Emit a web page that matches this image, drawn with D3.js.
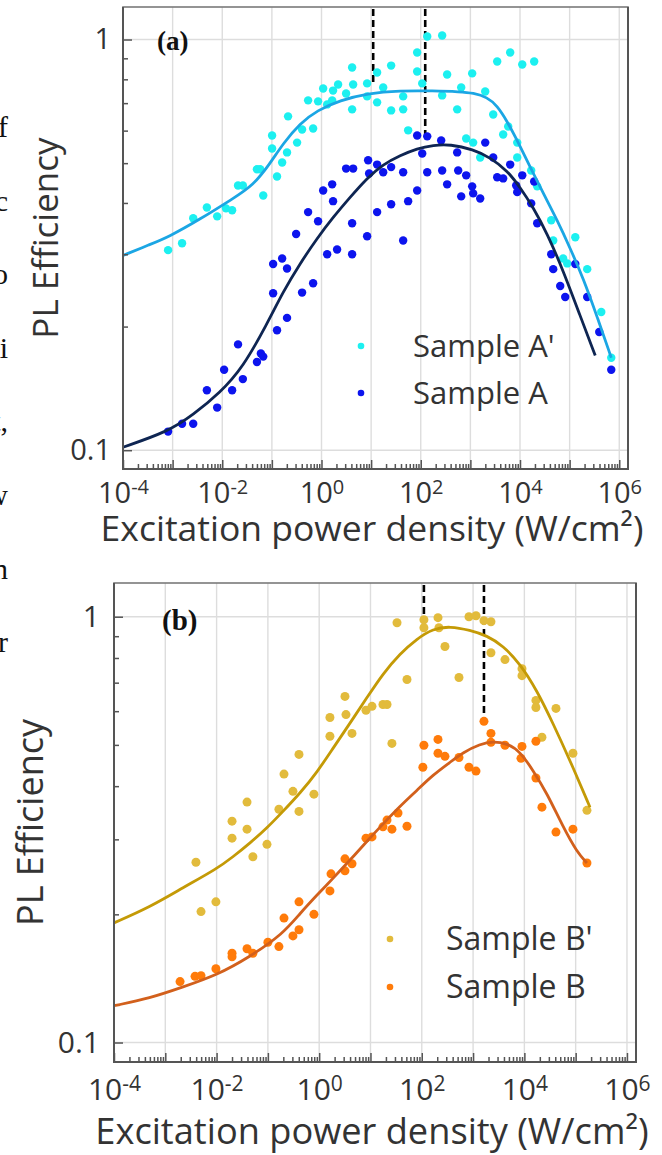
<!DOCTYPE html>
<html>
<head>
<meta charset="utf-8">
<script src="https://cdn.jsdelivr.net/npm/d3@7"></script>
<style>
  body { margin: 0; background: #fff; }
  svg { display: block; font-family: "Open Sans", "Noto Sans", sans-serif; }
</style>
</head>
<body>
<svg id="chart" width="662" height="1155"></svg>
<script>
// ---- data: [power density (W/cm2), PL efficiency] ----
const sampleA1 = [[8.1e-4,0.307],[1.55e-3,0.319],[2.6e-3,0.367],[4.9e-3,0.390],[7.9e-3,0.371],[1.19e-2,0.388],[1.58e-2,0.384],[2.08e-2,0.441],[2.6e-2,0.441],[5.0e-2,0.483],[5.8e-2,0.483],[6.7e-2,0.417],[0.101,0.584],[0.101,0.543],[0.127,0.464],[0.161,0.502],[0.202,0.531],[0.212,0.650],[0.322,0.561],[0.406,0.604],[0.537,0.711],[0.678,0.607],[0.853,0.707],[1.08,0.760],[1.30,0.695],[1.64,0.711],[1.71,0.751],[2.16,0.777],[3.13,0.739],[4.14,0.855],[4.34,0.777],[4.14,0.676],[8.3,0.782],[8.3,0.727],[13.2,0.831],[13.2,0.703],[17.5,0.764],[25.3,0.864],[25.3,0.672],[44.2,0.727],[44.2,0.676],[55.7,0.601],[84.6,0.930],[84.6,0.836],[107,0.782],[135,1.017],[270,1.023],[340,0.822],[270,0.731],[653,0.764],[542,0.676],[1087,0.827],[1990,0.747],[823,0.574],[1138,0.561],[1577,0.516],[2884,0.657],[3470,0.884],[6340,0.930],[1.11e4,0.869],[1.93e4,0.884],[4580,0.587],[5780,0.614],[8790,0.561],[8790,0.516],[1.68e4,0.480],[2.22e4,0.439],[4.26e4,0.363],[4.67e4,0.324],[1.30e5,0.330],[7.4e4,0.293],[8.95e4,0.285],[2.26e5,0.276],[4.34e5,0.217],[6.9e5,0.168]]
const sampleA = [[8.1e-4,0.111],[1.55e-3,0.116],[2.6e-3,0.116],[4.9e-3,0.140],[7.9e-3,0.127],[1.09e-2,0.157],[1.58e-2,0.140],[2.08e-2,0.181],[2.6e-2,0.149],[5.0e-2,0.164],[6.0e-2,0.172],[6.7e-2,0.169],[0.106,0.241],[0.127,0.196],[0.202,0.210],[0.406,0.242],[0.678,0.255],[0.106,0.284],[0.161,0.293],[0.202,0.277],[0.308,0.336],[0.537,0.380],[0.853,0.361],[1.08,0.429],[1.30,0.300],[1.64,0.444],[1.71,0.404],[2.06,0.308],[3.13,0.485],[4.34,0.485],[4.14,0.357],[4.14,0.300],[8.3,0.332],[8.7,0.508],[9.1,0.472],[13.2,0.496],[13.2,0.380],[17.5,0.475],[25.3,0.489],[25.3,0.397],[44.2,0.475],[44.2,0.324],[55.7,0.404],[84.6,0.429],[84.6,0.584],[107,0.528],[135,0.581],[135,0.475],[258,0.568],[270,0.480],[340,0.444],[542,0.531],[568,0.480],[653,0.415],[823,0.467],[1087,0.439],[1138,0.422],[1577,0.410],[1990,0.561],[2884,0.516],[3470,0.462],[4580,0.459],[6340,0.496],[8380,0.441],[8790,0.425],[1.11e4,0.467],[1.93e4,0.451],[1.68e4,0.399],[2.22e4,0.357],[4.26e4,0.300],[4.67e4,0.276],[1.30e5,0.284],[6.46e4,0.251],[8.15e4,0.236],[2.26e5,0.236],[3.95e5,0.194],[6.9e5,0.157]]
const fitA1 = [[1e-4,0.298],[3.5e-4,0.317],[8.1e-4,0.330],[3.56e-3,0.365],[1.65e-2,0.410],[4.18e-2,0.441],[9.2e-2,0.499],[0.168,0.558],[0.371,0.625],[0.815,0.672],[2.37,0.711],[8.3,0.739],[38.5,0.751],[178,0.750],[622,0.746],[1138,0.741],[2180,0.724],[3470,0.690],[5520,0.632],[8790,0.568],[1.61e4,0.489],[2.94e4,0.422],[5.62e4,0.363],[1.03e5,0.310],[1.88e5,0.262],[3.6e5,0.211],[6.9e5,0.168]]
const fitA = [[1e-4,0.1017],[8.1e-4,0.111],[2.6e-3,0.122],[9.0e-3,0.138],[2.6e-2,0.159],[8.0e-2,0.203],[0.168,0.243],[0.371,0.285],[0.815,0.328],[1.71,0.369],[3.77,0.413],[8.3,0.460],[17.5,0.497],[38.5,0.522],[84.6,0.543],[178,0.553],[392,0.556],[1138,0.540],[2510,0.516],[5520,0.480],[1.01e4,0.436],[1.85e4,0.390],[3.53e4,0.337],[7.4e4,0.274],[1.64e5,0.212],[3.28e5,0.170]]
const markersA = [[11, 0.78], [123, 0.584]]

const sampleB1 = [[3.96e-3,0.265],[4.97e-3,0.203],[9.7e-3,0.214],[2.0e-2,0.331],[2.0e-2,0.302],[3.92e-2,0.367],[3.92e-2,0.317],[5.1e-2,0.273],[9.6e-2,0.292],[0.164,0.353],[0.206,0.427],[0.308,0.389],[0.404,0.475],[0.404,0.349],[0.79,0.383],[1.62,0.580],[1.62,0.524],[3.18,0.650],[3.33,0.589],[4.36,0.532],[8.17,0.603],[10.7,0.616],[17.5,0.622],[21.0,0.622],[26.2,0.504],[32.9,0.968],[51.5,0.712],[110,0.984],[110,0.942],[207,0.995],[216,0.942],[283,0.851],[531,0.720],[832,1.0],[1140,1.005],[1630,0.979],[2230,0.973],[2230,0.823],[4190,0.793],[8980,0.755],[8980,0.727],[1.68e4,0.636],[1.68e4,0.612],[4.13e4,0.609],[2.2e4,0.521],[8.85e4,0.478],[1.66e5,0.351]]
const sampleB = [[1.94e-3,0.139],[3.8e-3,0.143],[4.97e-3,0.1435],[9.7e-3,0.149],[2.0e-2,0.162],[2.0e-2,0.159],[3.92e-2,0.166],[5.1e-2,0.162],[0.100,0.172],[0.164,0.168],[0.206,0.196],[0.308,0.178],[0.404,0.184],[0.404,0.214],[0.79,0.200],[1.62,0.227],[1.70,0.249],[3.18,0.270],[3.18,0.253],[4.36,0.263],[8.17,0.302],[10.7,0.304],[17.5,0.321],[21.0,0.333],[26.2,0.317],[34.4,0.346],[51.5,0.322],[110,0.499],[105,0.443],[207,0.515],[207,0.478],[283,0.470],[531,0.467],[832,0.443],[1140,0.434],[1630,0.568],[2230,0.532],[2230,0.507],[4190,0.499],[8980,0.496],[8590,0.465],[1.68e4,0.510],[1.68e4,0.418],[2.2e4,0.357],[4.13e4,0.312],[8.85e4,0.317],[1.66e5,0.264]]
const fitB1 = [[1e-4,0.191],[5.0e-4,0.208],[2.2e-3,0.231],[1.02e-2,0.256],[2.09e-2,0.273],[4.48e-2,0.294],[9.6e-2,0.319],[0.197,0.349],[0.423,0.385],[0.906,0.431],[1.86,0.491],[3.98,0.562],[8.55,0.646],[17.5,0.735],[37.6,0.819],[80.6,0.888],[165,0.937],[355,0.950],[871,0.930],[1866,0.903],[3830,0.855],[8200,0.776],[1.76e4,0.671],[3.61e4,0.562],[7.74e4,0.460],[1.90e5,0.357]]
const fitB = [[1e-4,0.122],[5.0e-4,0.127],[2.2e-3,0.135],[1.02e-2,0.144],[4.48e-2,0.159],[0.197,0.180],[0.423,0.201],[0.906,0.222],[1.86,0.243],[3.98,0.268],[8.55,0.297],[17.5,0.326],[37.6,0.359],[80.6,0.391],[165,0.425],[355,0.455],[635,0.480],[1365,0.502],[2440,0.510],[4580,0.504],[8200,0.483],[1.47e4,0.436],[2.76e4,0.385],[5.66e4,0.321],[1.06e5,0.280],[1.66e5,0.264]]
const markersB = [[110, 0.979], [1630, 0.593]]

// ---- axes ----
const X_DOMAIN = [1e-4, 1.5e6]
const Y_DOMAIN = [0.09, 1.2]
const X_LABEL_EXPONENTS = [-4, -2, 0, 2, 4, 6]
const Y_TICKS = [0.1, 1]
const X_TITLE = "Excitation power density (W/cm²)"
const Y_TITLE = "PL Efficiency"

// cut-off letters of the neighbouring page text
const MARGIN_LETTERS = ["f", "c", "o", "i", "t,", "w", "n", "r"]

const panels = [
  {
    left: 123, right: 628, top: 7, bottom: 469,
    tickSize: 29, supSize: 20, supDy: -9, xTickY: 34, yTickPad: 12,
    xTitleX: 372, xTitleY: 541, xTitleSize: 35.5, yTitleX: 58, yTitleSize: 35,
    tag: "(a)", tagX: 157, tagY: 50, tagSize: 27,
    legendX: 361, legendTextX: 413, legendY: [346, 393], legendSize: 31,
    pointR: 4.2, legendR: 3.3,
    markers: markersA,
    series: [
      { name: "Sample A'", points: sampleA1, fit: fitA1, dot: "#1cf0f0", line: "#1ba6e4" },
      { name: "Sample A", points: sampleA, fit: fitA, dot: "#0c14ee", line: "#0e2552" }
    ]
  },
  {
    left: 114, right: 636, top: 583, bottom: 1062,
    tickSize: 30, supSize: 21, supDy: -9.5, xTickY: 38, yTickPad: 14,
    xTitleX: 372, xTitleY: 1144, xTitleSize: 36.2, yTitleX: 43, yTitleSize: 36,
    tag: "(b)", tagX: 162, tagY: 630, tagSize: 29,
    legendX: 390, legendTextX: 446, legendY: [939, 987], legendSize: 32,
    pointR: 4.5, legendR: 3.3,
    markers: markersB,
    series: [
      { name: "Sample B'", points: sampleB1, fit: fitB1, dot: "#e2bb3c", line: "#c49a06" },
      { name: "Sample B", points: sampleB, fit: fitB, dot: "#ff7b0a", line: "#d2601c" }
    ]
  }
]

const svg = d3.select("#chart")
const TEXT_COLOR = "#333"
const AXIS_COLOR = "#555"
const SERIF = "'Liberation Serif', 'DejaVu Serif', serif"

const isPow10 = d => Math.abs(Math.log10(d) - Math.round(Math.log10(d))) < 1e-9

function drawPanel(p) {
  const x = d3.scaleLog().domain(X_DOMAIN).range([p.left, p.right])
  const y = d3.scaleLog().domain(Y_DOMAIN).range([p.bottom, p.top])
  const g = svg.append("g")

  const xAll = x.ticks(30)
  const decades = xAll.filter(isPow10)
  const xMinor = xAll.filter(d => !isPow10(d))
  const yMinor = y.ticks(20).filter(d => !isPow10(d) && d > 0.1)

  // grid
  g.append("g").selectAll("line")
   .data(decades.filter(d => d > X_DOMAIN[0]))
   .join("line")
   .attr("x1", d => x(d)).attr("x2", d => x(d))
   .attr("y1", p.top).attr("y2", p.bottom)
   .attr("stroke", "#dddddd").attr("stroke-width", 1.4)
  g.append("g").selectAll("line")
   .data(Y_TICKS)
   .join("line")
   .attr("x1", p.left).attr("x2", p.right)
   .attr("y1", d => y(d)).attr("y2", d => y(d))
   .attr("stroke", "#dddddd").attr("stroke-width", 1.4)

  // dashed markers from the top edge
  g.append("g").selectAll("line")
   .data(p.markers)
   .join("line")
   .attr("x1", d => x(d[0])).attr("x2", d => x(d[0]))
   .attr("y1", p.top + 2).attr("y2", d => y(d[1]))
   .attr("stroke", "#000").attr("stroke-width", 2.6)
   .attr("stroke-dasharray", "7,4")

  // points
  p.series.forEach(s => {
    g.append("g").selectAll("circle")
     .data(s.points)
     .join("circle")
     .attr("cx", d => x(d[0]))
     .attr("cy", d => y(d[1]))
     .attr("r", p.pointR)
     .attr("fill", s.dot)
  })

  // fit curves
  const line = d3.line()
                 .x(d => x(d[0]))
                 .y(d => y(d[1]))
                 .curve(d3.curveBasis)
  p.series.forEach(s => {
    g.append("path")
     .datum(s.fit)
     .attr("d", line)
     .attr("fill", "none")
     .attr("stroke", s.line)
     .attr("stroke-width", 2.8)
  })

  // frame
  g.append("rect")
   .attr("x", p.left).attr("y", p.top)
   .attr("width", p.right - p.left).attr("height", p.bottom - p.top)
   .attr("fill", "none").attr("stroke", "#7a7a7a").attr("stroke-width", 1.6)
  g.append("path")
   .attr("d", `M${p.left},${p.top}V${p.bottom}H${p.right}V${p.top}`)
   .attr("fill", "none").attr("stroke", AXIS_COLOR).attr("stroke-width", 2)

  // x axis ticks (inward)
  const xMinorG = g.append("g")
                   .attr("transform", `translate(0,${p.bottom})`)
                   .call(d3.axisBottom(x).tickValues(xMinor).tickSize(-5).tickFormat(""))
  const xMajorG = g.append("g")
                   .attr("transform", `translate(0,${p.bottom})`)
                   .call(d3.axisBottom(x).tickValues(decades).tickSize(-9))
  xMajorG.selectAll(".tick text").each(function(d) {
    const e = Math.round(Math.log10(d))
    const t = d3.select(this)
    if (!X_LABEL_EXPONENTS.includes(e)) { t.remove(); return }
    t.text(null)
     .attr("dy", null)
     .attr("y", p.xTickY)
     .attr("fill", TEXT_COLOR)
     .attr("font-size", p.tickSize)
    t.append("tspan").text("10")
    t.append("tspan").attr("dy", p.supDy).attr("font-size", p.supSize).text(e)
  })

  // y axis ticks (inward)
  const yMinorG = g.append("g")
                   .attr("transform", `translate(${p.left},0)`)
                   .call(d3.axisLeft(y).tickValues(yMinor).tickSize(-5).tickFormat(""))
  const yMajorG = g.append("g")
                   .attr("transform", `translate(${p.left},0)`)
                   .call(d3.axisLeft(y).tickValues(Y_TICKS).tickSize(-9)
                           .tickPadding(p.yTickPad).tickFormat(d3.format("")))
  yMajorG.selectAll(".tick text")
         .attr("fill", TEXT_COLOR)
         .attr("font-size", p.tickSize)

  xMinorG.selectAll(".tick text").remove()
  yMinorG.selectAll(".tick text").remove()
  ;[xMinorG, xMajorG, yMinorG, yMajorG].forEach(a => {
    a.select(".domain").remove()
    a.attr("font-family", null)
    a.selectAll(".tick line").attr("stroke", AXIS_COLOR).attr("stroke-width", 1.5)
  })

  // titles
  g.append("text")
   .attr("x", p.xTitleX).attr("y", p.xTitleY)
   .attr("text-anchor", "middle")
   .attr("font-size", p.xTitleSize)
   .attr("fill", TEXT_COLOR)
   .text(X_TITLE)
  g.append("text")
   .attr("transform", `translate(${p.yTitleX},${(p.top + p.bottom) / 2}) rotate(-90)`)
   .attr("text-anchor", "middle")
   .attr("font-size", p.yTitleSize)
   .attr("fill", TEXT_COLOR)
   .text(Y_TITLE)

  // panel tag
  g.append("text")
   .attr("x", p.tagX).attr("y", p.tagY)
   .style("font-family", SERIF)
   .attr("font-weight", "bold")
   .attr("font-size", p.tagSize)
   .attr("fill", "#111")
   .text(p.tag)

  // legend
  const legend = g.append("g").selectAll("g")
                  .data(p.series)
                  .join("g")
                  .attr("transform", (d, i) => `translate(0,${p.legendY[i]})`)
  legend.append("circle")
        .attr("cx", p.legendX).attr("cy", 0)
        .attr("r", p.legendR)
        .attr("fill", d => d.dot)
  legend.append("text")
        .attr("x", p.legendTextX).attr("y", 0)
        .attr("dy", "0.35em")
        .attr("font-size", p.legendSize)
        .attr("fill", TEXT_COLOR)
        .text(d => d.name)
}

panels.forEach(drawPanel)

// neighbouring page text, cut off at the left edge
svg.append("g").selectAll("text")
   .data(MARGIN_LETTERS)
   .join("text")
   .attr("x", 8)
   .attr("y", (d, i) => 137 + i * 73.6)
   .attr("text-anchor", "end")
   .style("font-family", SERIF)
   .attr("font-size", 30)
   .attr("fill", "#111")
   .text(d => d)
</script>
</body>
</html>
